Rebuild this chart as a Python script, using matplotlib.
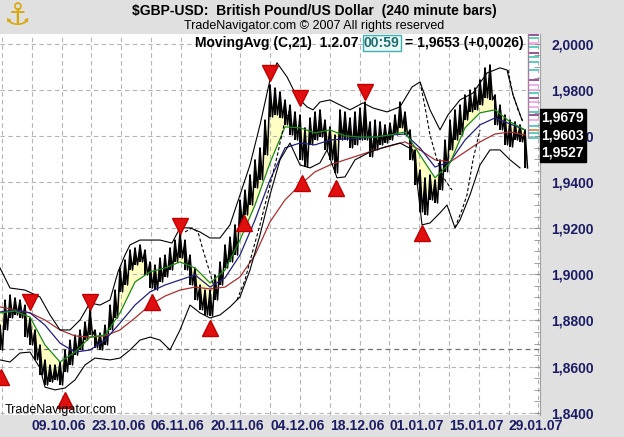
import numpy as np
import matplotlib.pyplot as plt
from matplotlib.ticker import FixedLocator, FuncFormatter

plt.rcParams['font.family'] = ['Liberation Sans', 'DejaVu Sans']

# 240 minute bars, sampled every 5th bar: high / low
bar_x = np.arange(0, 530, 5)
bar_hi = [1.8780, 1.8889, 1.8911, 1.8898, 1.8889, 1.8867, 1.8811, 1.8759, 1.8694, 1.8629,
          1.8607, 1.8607, 1.8620, 1.8672, 1.8715, 1.8737, 1.8759, 1.8794, 1.8846, 1.8759,
          1.8746, 1.8780, 1.8867, 1.8932, 1.9028, 1.9063, 1.9106, 1.9115, 1.9128, 1.9106,
          1.9054, 1.9041, 1.9071, 1.9084, 1.9115, 1.9149, 1.9180, 1.9149, 1.9084, 1.9028,
          1.8954, 1.8932, 1.8932, 1.8998, 1.9054, 1.9128, 1.9162, 1.9215, 1.9323, 1.9366,
          1.9432, 1.9497, 1.9549, 1.9670, 1.9822, 1.9809, 1.9792, 1.9757, 1.9735, 1.9705,
          1.9692, 1.9636, 1.9679, 1.9705, 1.9714, 1.9670, 1.9640, 1.9605, 1.9714, 1.9705,
          1.9679, 1.9705, 1.9722, 1.9748, 1.9662, 1.9670, 1.9662, 1.9649, 1.9657, 1.9692,
          1.9748, 1.9705, 1.9627, 1.9540, 1.9453, 1.9419, 1.9432, 1.9410, 1.9497, 1.9583,
          1.9670, 1.9714, 1.9735, 1.9779, 1.9800, 1.9809, 1.9844, 1.9896, 1.9909, 1.9779,
          1.9735, 1.9692, 1.9670, 1.9662, 1.9649, 1.9627]
bar_lo = [1.8672, 1.8759, 1.8811, 1.8824, 1.8811, 1.8728, 1.8694, 1.8629, 1.8564, 1.8520,
          1.8533, 1.8542, 1.8520, 1.8577, 1.8607, 1.8650, 1.8672, 1.8715, 1.8737, 1.8681,
          1.8672, 1.8694, 1.8759, 1.8811, 1.8924, 1.8954, 1.9019, 1.9041, 1.9054, 1.8998,
          1.8941, 1.8932, 1.8967, 1.8989, 1.9019, 1.9054, 1.9071, 1.9019, 1.8954, 1.8889,
          1.8846, 1.8824, 1.8820, 1.8889, 1.8954, 1.9028, 1.9054, 1.9084, 1.9215, 1.9258,
          1.9301, 1.9375, 1.9410, 1.9518, 1.9683, 1.9692, 1.9679, 1.9649, 1.9605, 1.9583,
          1.9497, 1.9466, 1.9562, 1.9583, 1.9596, 1.9540, 1.9497, 1.9440, 1.9583, 1.9583,
          1.9549, 1.9562, 1.9583, 1.9583, 1.9510, 1.9540, 1.9562, 1.9570, 1.9583, 1.9605,
          1.9636, 1.9605, 1.9497, 1.9388, 1.9271, 1.9258, 1.9323, 1.9310, 1.9366, 1.9445,
          1.9540, 1.9583, 1.9605, 1.9670, 1.9705, 1.9714, 1.9735, 1.9766, 1.9757, 1.9649,
          1.9627, 1.9562, 1.9553, 1.9583, 1.9575, 1.9462]

# moving averages, every 15th bar
ma_x = np.arange(0, 526, 15)
ma_fast = [1.8833, 1.8841, 1.8815, 1.8694, 1.8620, 1.8663, 1.8728, 1.8737, 1.8833, 1.8967,
           1.9011, 1.9028, 1.9054, 1.9028, 1.8963, 1.9019, 1.9149, 1.9301, 1.9484, 1.9640,
           1.9636, 1.9614, 1.9627, 1.9601, 1.9596, 1.9596, 1.9605, 1.9618, 1.9518, 1.9419,
           1.9484, 1.9636, 1.9701, 1.9714, 1.9662, 1.9627]
ma_mid = [1.8837, 1.8846, 1.8833, 1.8780, 1.8702, 1.8663, 1.8672, 1.8715, 1.8789, 1.8867,
          1.8924, 1.8954, 1.8976, 1.8998, 1.8945, 1.8985, 1.9084, 1.9236, 1.9410, 1.9549,
          1.9570, 1.9562, 1.9583, 1.9588, 1.9592, 1.9596, 1.9605, 1.9609, 1.9549, 1.9466,
          1.9488, 1.9583, 1.9649, 1.9679, 1.9653, 1.9627]
ma_slow = [1.8859, 1.8846, 1.8833, 1.8802, 1.8759, 1.8733, 1.8728, 1.8733, 1.8759, 1.8811,
           1.8867, 1.8906, 1.8932, 1.8945, 1.8937, 1.8945, 1.8989, 1.9084, 1.9228, 1.9323,
           1.9388, 1.9445, 1.9475, 1.9497, 1.9518, 1.9540, 1.9557, 1.9575, 1.9540, 1.9497,
           1.9488, 1.9531, 1.9575, 1.9609, 1.9618, 1.9605]

# bands
up_x = [0, 10, 25, 40, 50, 60, 70, 80, 90, 100, 110, 118, 125, 130, 140, 150, 160, 172, 180,
        190, 200, 210, 220, 230, 240, 250, 260, 270, 277, 287, 297, 307, 313, 320, 330, 340,
        350, 363, 373, 387, 400, 412, 420, 430, 440, 448, 460, 473, 487, 500, 507, 513, 522]
up_y = [1.9028, 1.8941, 1.8932, 1.8902, 1.8824, 1.8759, 1.8759, 1.8802, 1.8876, 1.8867,
        1.8889, 1.9011, 1.9084, 1.9128, 1.9149, 1.9149, 1.9149, 1.9136, 1.9202, 1.9202,
        1.9184, 1.9158, 1.9158, 1.9215, 1.9345, 1.9475, 1.9649, 1.9844, 1.9918, 1.9857,
        1.9770, 1.9727, 1.9714, 1.9748, 1.9757, 1.9735, 1.9714, 1.9744, 1.9722, 1.9705,
        1.9727, 1.9813, 1.9835, 1.9714, 1.9627, 1.9692, 1.9757, 1.9787, 1.9874, 1.9896,
        1.9887, 1.9779, 1.9670]
lo_x = [0, 10, 20, 30, 40, 45, 55, 65, 75, 85, 95, 110, 120, 130, 140, 150, 160, 170, 180,
        190, 200, 210, 220, 230, 240, 250, 260, 270, 280, 290, 300, 310, 320, 327, 337, 345,
        355, 370, 385, 400, 413, 418, 422, 430, 440, 447, 455, 460, 470, 480, 490, 500, 510, 520]
lo_y = [1.8629, 1.8620, 1.8659, 1.8663, 1.8594, 1.8511, 1.8499, 1.8507, 1.8542, 1.8607,
        1.8637, 1.8629, 1.8637, 1.8672, 1.8715, 1.8728, 1.8715, 1.8672, 1.8759, 1.8867,
        1.8833, 1.8811, 1.8824, 1.8859, 1.8902, 1.9019, 1.9171, 1.9345, 1.9497, 1.9570,
        1.9475, 1.9462, 1.9484, 1.9540, 1.9419, 1.9423, 1.9497, 1.9531, 1.9553, 1.9570,
        1.9540, 1.9366, 1.9215, 1.9223, 1.9267, 1.9301, 1.9202, 1.9236, 1.9345, 1.9475,
        1.9540, 1.9540, 1.9497, 1.9462]
# displaced channel (dashed), only where it leaves the bands
dash_x = [185, 192, 198, 203, 210, 215, np.nan,
          237, 245, 253, 260, 267, 277, 285, 290, np.nan,
          420, 425, 430, 437, 445, 452, np.nan,
          455, 462, 467, 473, 480, np.nan,
          508, 513, 518, 523]
dash_y = [1.9184, 1.9202, 1.9184, 1.9106, 1.9006, 1.8932, np.nan,
          1.8889, 1.8976, 1.9106, 1.9215, 1.9336, 1.9510, 1.9670, 1.9714, np.nan,
          1.9835, 1.9727, 1.9605, 1.9497, 1.9410, 1.9366, np.nan,
          1.9202, 1.9280, 1.9345, 1.9497, 1.9627, np.nan,
          1.9887, 1.9779, 1.9714, 1.9662]

# swing signals
sell_x = [30, 90, 180, 270, 300, 365]
sell_y = [1.8880, 1.8880, 1.9210, 1.9874, 1.9766, 1.9792]
buy_x = [1, 65, 152, 210, 244, 302, 336, 422]
buy_y = [1.8555, 1.8455, 1.8880, 1.8768, 1.9223, 1.9397, 1.9375, 1.9180]

# price levels drawn on the right edge
lvl = [2.0039, 2.0026, 2.0004, 1.9987, 1.9961, 1.9944, 1.9922, 1.9887, 1.9844, 1.9822, 1.9800,
       1.9787, 1.9766, 1.9748, 1.9727, 1.9705, 1.9692, 1.9670, 1.9644, 1.9627, 1.9614, 1.9592]
lvl_c = ['#904890', '#50c8b8', '#f0a8e8', '#50c8b8', '#904890', '#50c8b8', '#50c8b8', '#50c8b8',
         '#904890', '#f0a8e8', '#f0a8e8', '#50c8b8', '#904890', '#f0a8e8', '#f0a8e8', '#50c8b8',
         '#904890', '#f0a8e8', '#50c8b8', '#d09050', '#50c8b8', '#50c8b8']

last_vals = [1.9679, 1.9603, 1.9527]

date_labels = ['09.10.06', '23.10.06', '06.11.06', '20.11.06', '04.12.06',
               '18.12.06', '01.01.07', '15.01.07', '29.01.07']

navy = '#1c1c64'
grid_ls = (0, (4, 3))

fig = plt.figure(figsize=(6.24, 4.37), dpi=100, facecolor='#e0e0e0')
ax = fig.add_axes([0, 1 - 415 / 437, 540 / 624, 381 / 437])
ax.set_facecolor('white')
ax.set_xlim(0, 540)
ax.set_ylim(1.8390, 2.0043)

# weekly grid (one week ~ 30 bars)
weeks = 1.9 + 29.8 * np.arange(0, 19)
ax.set_xticks(weeks[1::2][:len(date_labels)])
ax.set_xticklabels(date_labels, ha='left')
ax.xaxis.set_minor_locator(FixedLocator(list(weeks[0::2]) + list(weeks[19:])))
ax.tick_params(axis='x', which='both', length=0, pad=3, labelsize=10, labelcolor=navy)
for t in ax.get_xticklabels():
    t.set_fontweight('bold')

ax.yaxis.tick_right()
ax.set_yticks(np.arange(1.84, 2.0001, 0.02))
ax.yaxis.set_major_formatter(FuncFormatter(lambda v, p: ('%.4f' % v).replace('.', ',')))
ax.yaxis.set_minor_locator(FixedLocator(np.arange(1.84, 2.0051, 0.005)))
ax.tick_params(axis='y', which='both', direction='in', length=4, color='#909090',
               pad=8, labelsize=10, labelcolor=navy)
for t in ax.get_yticklabels():
    t.set_fontweight('bold')

ax.grid(True, axis='x', which='both', ls=grid_ls, color='#b4b4b4', lw=0.8)
ax.grid(True, axis='y', which='major', ls=grid_ls, color='#b4b4b4', lw=0.8)
ax.axhline(1.8677, ls=grid_ls, color='#707070', lw=0.9)
for s in ['top', 'left', 'bottom']:
    ax.spines[s].set_visible(False)
ax.spines['right'].set_color('#a0a0a0')

# yellow ribbon between price and fast average
g = np.interp(bar_x, ma_x, ma_fast)
mid = (np.array(bar_hi) + np.array(bar_lo)) / 2
ax.fill_between(bar_x, np.minimum(mid, g), np.maximum(mid, g), color='#ffffc4', lw=0, zorder=1)

# price bars: high-low strokes joined into a jagged ribbon
zx = np.column_stack([bar_x, bar_x + 2.5]).ravel()
zy = np.column_stack([bar_hi, bar_lo]).ravel()
ax.plot(zx, zy, color='black', lw=1.1, zorder=2)
ax.vlines(bar_x, bar_lo, bar_hi, color='black', lw=1.4, zorder=2)

ax.plot(ma_x, ma_slow, color='#a83030', lw=0.9, zorder=3)
ax.plot(ma_x, ma_mid, color='#202080', lw=0.9, zorder=3)
ax.plot(ma_x, ma_fast, color='#1a8a1a', lw=0.9, zorder=3)
ax.plot(up_x, up_y, color='black', lw=0.8, zorder=3)
ax.plot(lo_x, lo_y, color='black', lw=0.8, zorder=3)
ax.plot(dash_x, dash_y, color='black', lw=0.8, ls=(0, (3, 2)), zorder=3)

ax.plot(sell_x, sell_y, 'v', color='#e01010', ms=12, mec='#c00000', zorder=5)
ax.plot(buy_x, buy_y, '^', color='#e01010', ms=12, mec='#c00000', zorder=5)

ax.hlines(lvl, 528, 539, colors=lvl_c, lw=1.3, zorder=4)
ax.vlines(528, 1.9590, 2.0043, color='#a080a0', lw=1, zorder=4)

for v in last_vals:
    ax.text(1.003, v, ('%.4f' % v).replace('.', ','), transform=ax.get_yaxis_transform(),
            ha='left', va='center', color='white', fontsize=10, fontweight='bold',
            bbox=dict(fc='black', ec='black', pad=1.2), zorder=6, clip_on=False)

# header
fig.text(314 / 624, 1 - 11 / 437, '$GBP-USD:  British Pound/US Dollar  (240 minute bars)',
         ha='center', va='center', fontsize=10, fontweight='bold')
fig.text(314 / 624, 1 - 26 / 437, 'TradeNavigator.com \u00a9 2007 All rights reserved',
         ha='center', va='center', fontsize=9)
fig.text(195 / 624, 1 - 43 / 437, 'MovingAvg (C,21)  1.2.07', ha='left', va='center',
         fontsize=10, fontweight='bold')
fig.text(364 / 624, 1 - 43 / 437, '00:59', ha='left', va='center', fontsize=10,
         fontweight='bold', color='#207070',
         bbox=dict(fc='#eaf8f8', ec='#40b0b0', pad=0.6, lw=1))
fig.text(405 / 624, 1 - 43 / 437, '= 1,9653 (+0,0026)', ha='left', va='center',
         fontsize=10, fontweight='bold')
fig.text(5 / 624, 1 - 410 / 437, 'TradeNavigator.com', ha='left', va='center', fontsize=9)
fig.text(17 / 624, 1 - 16 / 437, '\u2693', ha='center', va='center', fontsize=22,
         color='#d8a810', family=['DejaVu Sans'])

fig.savefig('out.png', dpi=100, facecolor=fig.get_facecolor())
